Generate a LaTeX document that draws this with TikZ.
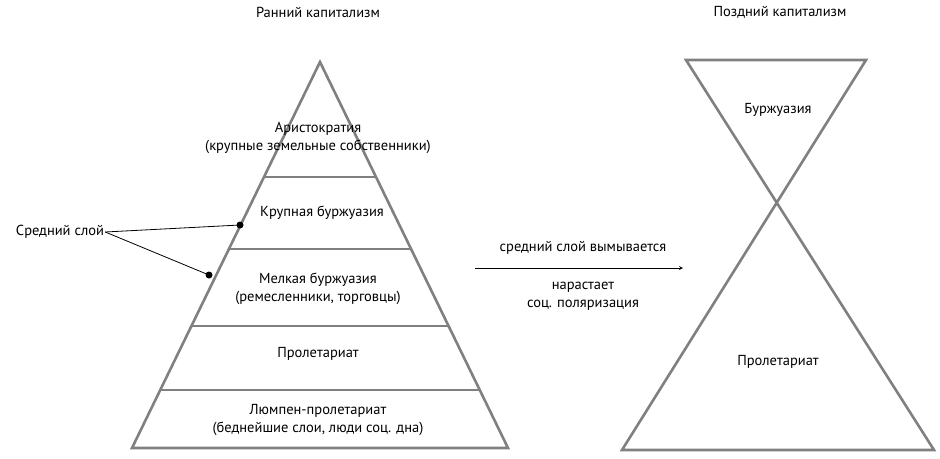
\documentclass[tikz,border=0pt]{standalone}
\usepackage{fontspec}
\setmainfont{PT Sans}
\begin{document}
\begin{tikzpicture}[x=1pt,y=-1pt,
  outline/.style={draw=black!50,line width=2.6pt,line join=miter},
  lbl/.style={font=\fontsize{14.5}{18}\selectfont,align=center,inner sep=1pt},
  lead/.style={draw=black,line width=0.8pt}]
\useasboundingbox (0,0) rectangle (940,458);
\coordinate (A) at (320,62);
\coordinate (BL) at (132,448);
\coordinate (BR) at (508,448);
\draw[outline] (A) -- (BL) -- (BR) -- cycle;
\foreach \y in {177,249,326,390}{
  \pgfmathsetmacro\dx{(\y-62)/386*188}
  \draw[outline] (320-\dx,\y) -- (320+\dx,\y);}
\node[lbl] (t1) at (318,12) {Ранний капитализм};
\node[lbl] (t2) at (780,12) {Поздний капитализм};
\node[lbl] (ar) at (318,138) {Аристократия\\(крупные земельные собственники)};
\node[lbl] (kb) at (322,213) {Крупная буржуазия};
\node[lbl] (mb) at (318,289) {Мелкая буржуазия\\(ремесленники, торговцы)};
\node[lbl] (pr) at (318,354) {Пролетариат};
\node[lbl] (lp) at (318,420) {Люмпен-пролетариат\\(беднейшие слои, люди соц. дна)};
\node[lbl] (ss) at (60,232) {Средний слой};
\fill (240,225) circle (3.5) coordinate (d1);
\fill (209,275) circle (3.5) coordinate (d2);
\draw[lead] (ss.east) -- (d1);
\draw[lead] (ss.east) -- (d2);
\coordinate (a1) at (475,268);
\coordinate (a2) at (683,268);
\draw[lead,->,>=stealth] (a1) -- (a2);
\node[lbl] (m1) at (583,248) {средний слой вымывается};
\node[lbl] (m2) at (583,296) {нарастает\\соц. поляризация};
\coordinate (h1) at (686,60);
\coordinate (h2) at (866,60);
\coordinate (h3) at (622,450);
\coordinate (h4) at (934,450);
\draw[outline] (h1) -- (h2) -- (h3) -- (h4) -- cycle;
\node[lbl] (hb) at (778,110) {Буржуазия};
\node[lbl] (hp) at (778,362) {Пролетариат};
\end{tikzpicture}
\end{document}
